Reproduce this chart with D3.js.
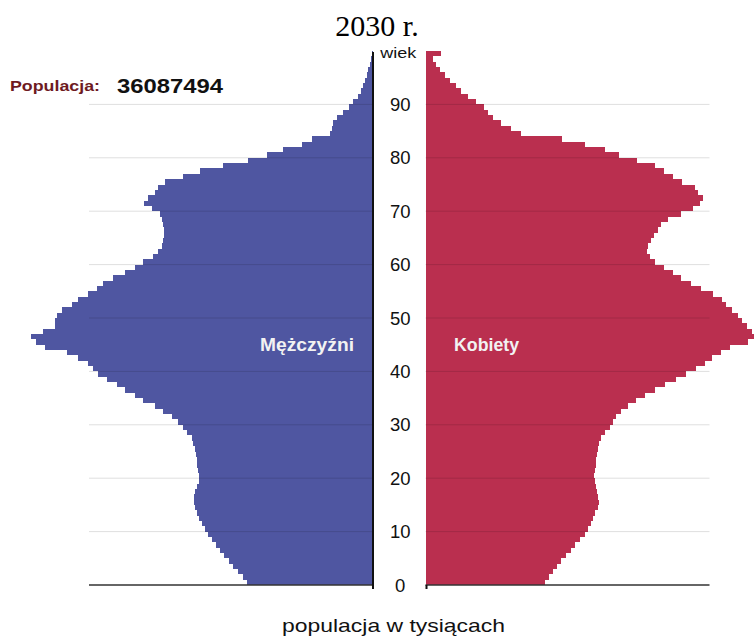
<!DOCTYPE html>
<html><head><meta charset="utf-8">
<script src="https://cdn.jsdelivr.net/npm/d3@7/dist/d3.min.js"></script>
<style>body{margin:0;background:#fff}svg{display:block}</style>
</head><body><svg id="c" width="754" height="639"></svg>
<script>
// ---- data (population in thousands, by single year of age 0..99) ----
const ages = d3.range(0, 100);
const male = [
126,130,135,140,144,149,153,157,161,165,
168,171,174,176,178,179,179,178,176,174,
174,175,176,176,177,178,180,181,186,190,
195,201,210,218,230,238,248,256,266,275,
280,285,295,306,328,337,342,330,318,318,
316,311,301,295,285,276,270,260,248,238,
230,220,215,211,210,209,209,210,211,213,
221,229,225,218,215,208,190,173,150,125,
106,90,71,61,43,41,40,36,30,24,
20,15,12,10,8,6,5,3,2,1];
const female = [
119,123,127,131,135,140,145,149,154,159,
162,165,167,169,172,173,172,171,170,169,
168,169,170,170,171,172,173,175,179,184,
187,190,195,202,210,219,229,239,250,260,
270,279,286,295,304,322,329,326,321,316,
312,306,300,296,287,275,265,255,247,238,
229,224,221,222,225,228,232,235,242,255,
267,274,277,272,269,256,247,238,229,211,
193,179,159,136,95,85,75,67,62,58,
50,42,35,30,24,19,14,10,7,15];
const ageTicks = [0,10,20,30,40,50,60,70,80,90];
const titleText = "2030 r.";
const axisTitle = "wiek";
const totalLabel = "Populacja:";
const totalValue = "36087494";
const maleLabel = "Mężczyźni";
const femaleLabel = "Kobiety";
const xTitle = "populacja w tysiącach";

// ---- layout ----
const svg = d3.select("#c");
const leftBase = 373, rightBase = 425.5;
const maxVal = 350, gridMax = 284;
const xL = d3.scaleLinear().domain([0, maxVal]).range([leftBase, leftBase - maxVal]);
const xR = d3.scaleLinear().domain([0, maxVal]).range([rightBase, rightBase + maxVal]);
const y = d3.scaleLinear().domain([0, 100]).range([585, 51]);

const blue = "#4f56a1", red = "#ba2f4f";

// bars
svg.append("g").attr("shape-rendering", "crispEdges").selectAll("rect")
  .data(ages).join("rect")
  .attr("x", a => xL(male[a]))
  .attr("width", a => xL(0) - xL(male[a]))
  .attr("y", a => y(a + 1))
  .attr("height", a => y(a) - y(a + 1))
  .attr("fill", blue);
svg.append("g").attr("shape-rendering", "crispEdges").selectAll("rect")
  .data(ages).join("rect")
  .attr("x", xR(0))
  .attr("width", a => xR(female[a]) - xR(0))
  .attr("y", a => y(a + 1))
  .attr("height", a => y(a) - y(a + 1))
  .attr("fill", red);

// gridlines (over bars, translucent)
const grid = svg.append("g").attr("stroke", "rgba(0,0,0,0.13)").attr("stroke-width", 1);
ageTicks.filter(t => t > 0).forEach(t => {
  grid.append("line").attr("x1", xL(gridMax)).attr("x2", xL(0))
    .attr("y1", y(t)).attr("y2", y(t));
  grid.append("line").attr("x1", xR(0)).attr("x2", xR(gridMax))
    .attr("y1", y(t)).attr("y2", y(t));
});

// baselines
svg.append("line").attr("x1", xL(gridMax)).attr("x2", xL(0))
  .attr("y1", y(0)).attr("y2", y(0)).attr("stroke", "#333").attr("stroke-width", 1.5);
svg.append("line").attr("x1", xR(0)).attr("x2", xR(gridMax))
  .attr("y1", y(0)).attr("y2", y(0)).attr("stroke", "#333").attr("stroke-width", 1.5);
// vertical axis on male side
svg.append("line").attr("x1", xL(0)).attr("x2", xL(0))
  .attr("y1", y(100) + 1).attr("y2", y(0) + 4).attr("stroke", "#111").attr("stroke-width", 2);
svg.append("line").attr("x1", xR(0) + 1).attr("x2", xR(0) + 1)
  .attr("y1", y(0)).attr("y2", y(0) + 4).attr("stroke", "#111").attr("stroke-width", 2);

// age tick labels
const cx = (leftBase + rightBase) / 2;
svg.append("g").selectAll("text").data(ageTicks).join("text")
  .attr("x", cx + 1).attr("y", t => y(t) + 6.5)
  .attr("text-anchor", "middle")
  .attr("font-family", "Liberation Sans, Arial, sans-serif")
  .attr("font-size", 18.5).attr("fill", "#111")
  .text(t => t);
svg.append("text").attr("x", cx - 1).attr("y", 58)
  .attr("text-anchor", "middle")
  .attr("font-family", "Liberation Sans, Arial, sans-serif")
  .attr("font-size", 15).attr("textLength", 36).attr("lengthAdjust", "spacingAndGlyphs")
  .attr("fill", "#111").text(axisTitle);

// title
svg.append("text").attr("x", 377).attr("y", 36).attr("text-anchor", "middle")
  .attr("font-family", "Liberation Serif, Times New Roman, serif")
  .attr("font-size", 30).attr("fill", "#000").text(titleText);

// population total
svg.append("text").attr("x", 10).attr("y", 91)
  .attr("font-family", "Liberation Sans, Arial, sans-serif").attr("font-weight", "bold")
  .attr("font-size", 15).attr("textLength", 90).attr("lengthAdjust", "spacingAndGlyphs")
  .attr("fill", "#6e1a1f").text(totalLabel);
svg.append("text").attr("x", 117).attr("y", 93)
  .attr("font-family", "Liberation Sans, Arial, sans-serif").attr("font-weight", "bold")
  .attr("font-size", 21).attr("textLength", 106).attr("lengthAdjust", "spacingAndGlyphs")
  .attr("fill", "#111").text(totalValue);

// series labels
svg.append("text").attr("x", 260).attr("y", 351)
  .attr("font-family", "Liberation Sans, Arial, sans-serif").attr("font-weight", "bold")
  .attr("font-size", 18).attr("textLength", 94).attr("lengthAdjust", "spacingAndGlyphs")
  .attr("fill", "#f2f2f2").text(maleLabel);
svg.append("text").attr("x", 454).attr("y", 351)
  .attr("font-family", "Liberation Sans, Arial, sans-serif").attr("font-weight", "bold")
  .attr("font-size", 18).attr("textLength", 65).attr("lengthAdjust", "spacingAndGlyphs")
  .attr("fill", "#f2f2f2").text(femaleLabel);

// x axis title
svg.append("text").attr("x", 282).attr("y", 632)
  .attr("font-family", "Liberation Sans, Arial, sans-serif")
  .attr("font-size", 19).attr("textLength", 223).attr("lengthAdjust", "spacingAndGlyphs")
  .attr("fill", "#111").text(xTitle);
</script>
</body></html>
